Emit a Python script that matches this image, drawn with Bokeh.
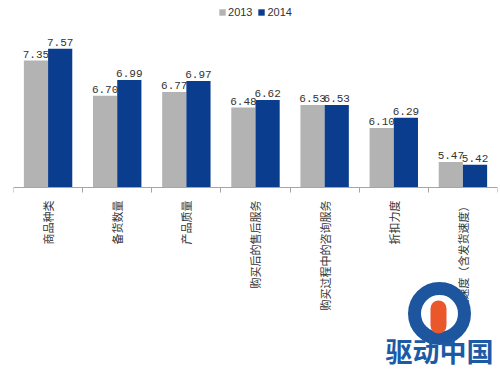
import math
from bokeh.plotting import figure
from bokeh.models import ColumnDataSource, FixedTicker, Legend, LegendItem, Label, BoxAnnotation, Range1d
from bokeh.core.properties import value
from bokeh.embed import file_html
from bokeh.resources import INLINE

categories = ["商品种类", "备货数量", "产品质量", "购买后的售后服务",
              "购买过程中的咨询服务", "折扣力度", "配送速度（含发货速度）"]
values_2013 = [7.35, 6.70, 6.77, 6.48, 6.53, 6.10, 5.47]
values_2014 = [7.57, 6.99, 6.97, 6.62, 6.53, 6.29, 5.42]
series_names = ["2013", "2014"]

GRAY = "#b3b3b3"
BLUE = "#0b3d8e"
BASE = 5.0

n = len(categories)
centers = [i + 0.5 for i in range(n)]
bw = 0.35

src = ColumnDataSource(dict(
    x13=[c - bw / 2 for c in centers],
    x14=[c + bw / 2 for c in centers],
    v13=values_2013, v14=values_2014,
    t13=["%.2f" % v for v in values_2013],
    t14=["%.2f" % v for v in values_2014],
))

p = figure(width=500, height=376, output_backend="svg", toolbar_location=None,
           x_range=Range1d(0, n), y_range=Range1d(1.5, 8.463),
           min_border_left=13, min_border_right=3, min_border_top=0, min_border_bottom=0)
p.outline_line_color = None
p.xgrid.visible = False
p.ygrid.visible = False
p.yaxis.visible = False
p.background_fill_color = "white"

r13 = p.vbar(x="x13", top="v13", bottom=BASE, width=bw, source=src, fill_color=GRAY, line_color=None)
r14 = p.vbar(x="x14", top="v14", bottom=BASE, width=bw, source=src, fill_color=BLUE, line_color=None)

for xc, yc, tc in (("x13", "v13", "t13"), ("x14", "v14", "t14")):
    p.text(x=xc, y=yc, text=tc, source=src, text_align="center", text_baseline="bottom",
           y_offset=-3, text_font=value("Liberation Mono"), text_font_size="11px",
           text_color="#333333")

ax = p.xaxis[0]
ax.fixed_location = BASE
ax.ticker = FixedTicker(ticks=centers, minor_ticks=list(range(n + 1)))
ax.major_label_overrides = {c: lab for c, lab in zip(centers, categories)}
ax.major_label_orientation = math.pi / 2
ax.major_tick_line_color = None
ax.major_tick_out = 0
ax.major_tick_in = 0
ax.minor_tick_line_color = "#a6a6a6"
ax.minor_tick_out = 5
ax.minor_tick_in = 0
ax.axis_line_color = "#a6a6a6"
ax.major_label_standoff = 8
ax.major_label_text_font = "Noto Sans CJK SC"
ax.major_label_text_font_size = "11px"
ax.major_label_text_color = "#333333"

legend = Legend(items=[LegendItem(label=series_names[0], renderers=[r13]),
                       LegendItem(label=series_names[1], renderers=[r14])],
                orientation="horizontal", location="top_center",
                glyph_width=8, glyph_height=8, label_standoff=2, spacing=5,
                padding=0, margin=6, border_line_color=None, background_fill_alpha=0,
                label_text_font="Liberation Sans", label_text_font_size="11px",
                label_text_color="#333333", label_height=10)
p.add_layout(legend)

# watermark (screen units relative to the frame's bottom-left corner)
ring = BoxAnnotation(left=401, right=451, bottom=376 - 338, top=376 - 288,
                     left_units="screen", right_units="screen",
                     top_units="screen", bottom_units="screen",
                     fill_alpha=0, line_color="#1d569f", line_alpha=1, line_width=13,
                     border_radius=25)
p.add_layout(ring)
bird = BoxAnnotation(left=417, right=433, bottom=376 - 333, top=376 - 300,
                     left_units="screen", right_units="screen",
                     top_units="screen", bottom_units="screen",
                     fill_color="#e9572b", fill_alpha=1, line_alpha=0,
                     border_radius=8)
p.add_layout(bird)
p.add_layout(Label(x=426, y=376 - 369, x_units="screen", y_units="screen",
                   text="驱动中国", text_align="center", text_font="Noto Sans CJK SC",
                   text_font_style="bold", text_font_size="27px", text_color="#1d5aa6"))

open("out.html", "w").write(file_html(p, INLINE))
